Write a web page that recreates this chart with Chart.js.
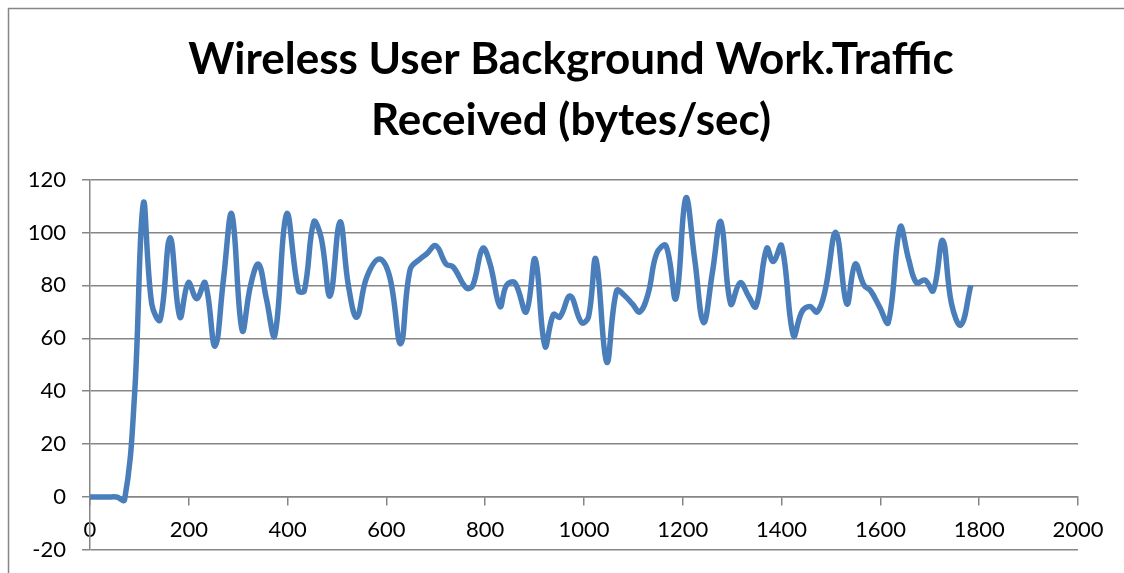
<!DOCTYPE html>
<html>
<head>
<meta charset="utf-8">
<script src="https://cdn.jsdelivr.net/npm/chart.js@4/dist/chart.umd.min.js"></script>
<style>
  html, body { margin: 0; padding: 0; background: #fff; overflow: hidden; }
  #wrap { position: relative; width: 1124px; height: 573px; }
</style>
</head>
<body>
<div id="wrap"><canvas id="chartTraffic" width="1124" height="573"></canvas></div>
<script>
// Time (s) and bytes/sec
const timeSec = [
  0, 18, 36, 54, 70, 90, 108, 125, 142, 162, 182, 199, 216, 233, 253, 270, 287, 308, 325, 341,
  357, 374, 398, 422, 434, 453, 468, 486, 506, 523, 540, 560, 586, 607, 629, 648, 668, 682, 700, 721,
  735, 762, 775, 795, 810, 830, 843, 860, 883, 901, 921, 938, 951, 972, 995, 1009, 1024, 1046, 1066, 1083,
  1098, 1113, 1130, 1147, 1166, 1186, 1206, 1224, 1242, 1260, 1277, 1297, 1316, 1333, 1348, 1370, 1383, 1400, 1424, 1441,
  1457, 1472, 1488, 1510, 1532, 1549, 1567, 1580, 1598, 1616, 1640, 1657, 1673, 1690, 1707, 1726, 1744, 1763, 1783
];
const bytesPerSec = [
  0, 0, 0, 0, -1, 38, 111, 73, 67, 98, 68, 81, 75, 81, 57, 82, 107, 63, 80, 88,
  75, 61, 107, 78, 78, 104, 98, 76, 104, 80, 68, 83, 90, 83, 58, 86, 90, 92, 95, 88,
  87, 79, 80, 94, 88, 72, 80, 81, 70, 90, 57, 69, 68, 76, 66, 68, 90, 51, 78, 76,
  73, 70, 77, 92, 95, 75, 113, 90, 66, 85, 104, 73, 81, 76, 72, 94, 89, 95, 61, 70,
  72, 70, 78, 100, 73, 88, 80, 78, 72, 66, 102, 90, 81, 82, 78, 97, 73, 65, 80
];
const yTicks = [-20, 0, 20, 40, 60, 80, 100, 120];
const xTicks = [0, 200, 400, 600, 800, 1000, 1200, 1400, 1600, 1800, 2000];
const titleLines = ['Wireless User Background Work.Traffic', 'Received (bytes/sec)'];

const points = timeSec.map((t, i) => ({ x: t, y: bytesPerSec[i] }));

// outer chart border like the spreadsheet frame
const framePlugin = {
  id: 'frame',
  beforeDraw(chart) {
    const ctx = chart.ctx;
    ctx.save();
    ctx.strokeStyle = '#868686';
    ctx.lineWidth = 1.5;
    ctx.beginPath();
    ctx.moveTo(8.5, 600);
    ctx.lineTo(8.5, 8.5);
    ctx.lineTo(1130, 8.5);
    ctx.stroke();
    ctx.restore();
  }
};

const gridColor = '#868686';
const tickFont = { family: 'Lato', size: 22 };

new Chart(document.getElementById('chartTraffic'), {
  type: 'scatter',
  data: {
    datasets: [{
      data: points,
      showLine: true,
      borderColor: '#4a7ebb',
      borderWidth: 5.5,
      pointRadius: 0,
      tension: 0.4,
      fill: false
    }]
  },
  options: {
    responsive: false,
    animation: false,
    layout: { padding: { left: 18, right: 0, top: 30, bottom: 23 } },
    plugins: {
      legend: { display: false },
      tooltip: { enabled: false },
      title: {
        display: true,
        text: titleLines,
        color: '#000',
        font: { family: 'Lato', size: 44, weight: 'bold', lineHeight: 1.37 },
        padding: { top: 0, bottom: 29 }
      }
    },
    scales: {
      x: {
        type: 'linear',
        position: { y: 0 },
        min: 0,
        max: 2000,
        afterBuildTicks: s => { s.ticks = xTicks.map(v => ({ value: v })); },
        afterFit: s => { s.paddingLeft = 0; s.paddingRight = 0; },
        ticks: { color: '#000', font: tickFont, padding: 12, maxRotation: 0, callback: v => String(v) },
        grid: { drawOnChartArea: false, drawTicks: true, tickLength: 8, color: gridColor, lineWidth: 1.5 },
        border: { color: gridColor, width: 1.5 }
      },
      y: {
        min: -20,
        max: 120,
        afterBuildTicks: s => { s.ticks = yTicks.map(v => ({ value: v })); },
        afterFit: s => { s.width = 72; s.paddingTop = 0; s.paddingBottom = 0; },
        ticks: { color: '#000', font: tickFont, padding: 16 },
        grid: { color: gridColor, lineWidth: 1.5, tickLength: 8 },
        border: { color: gridColor, width: 1.5 }
      },
      // empty right-hand spacer so the plot stops at 2000 while the title spans the frame
      spacer: {
        axis: 'y',
        position: 'right',
        display: true,
        afterFit: s => { s.width = 46; s.paddingTop = 0; s.paddingBottom = 0; },
        ticks: { display: false },
        grid: { display: false, drawTicks: false },
        border: { display: false }
      }
    }
  },
  plugins: [framePlugin]
});
</script>
</body>
</html>
